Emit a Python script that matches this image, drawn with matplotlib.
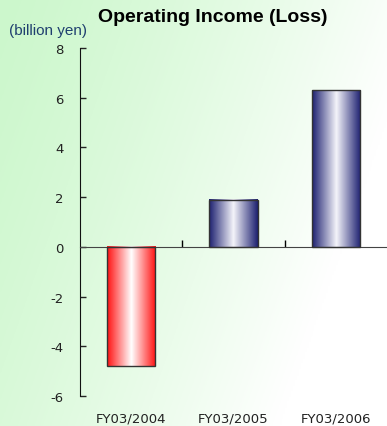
import numpy as np
import matplotlib.pyplot as plt
from matplotlib.colors import LinearSegmentedColormap
from matplotlib.transforms import blended_transform_factory

# Datos
periodos = ['FY03/2004', 'FY03/2005', 'FY03/2006']
ingreso = [-4.8, 1.9, 6.3]
yticks = [-6, -4, -2, 0, 2, 4, 6, 8]

fig = plt.figure(figsize=(3.87, 4.27), dpi=100)

# Fondo degradado verde -> blanco
bg = fig.add_axes([0, 0, 1, 1], zorder=-10)
xx, yy = np.meshgrid(np.linspace(0, 1, 200), np.linspace(0, 1, 200))
t = np.clip(0.9 * xx + 0.35 * yy, 0, 1) ** 1.3
verde = np.array([0.80, 0.97, 0.80])
blanco = np.array([1.0, 1.0, 1.0])
img = verde[None, None, :] * (1 - t[..., None]) + blanco[None, None, :] * t[..., None]
bg.imshow(img, extent=[0, 1, 0, 1], aspect='auto')
bg.axis('off')

ax = fig.add_axes([80 / 387, 1 - 397 / 427, 1 - 80 / 387, (397 - 49) / 427])
ax.patch.set_alpha(0)

barras = ax.bar(range(len(periodos)), ingreso, width=0.47,
                facecolor='none', edgecolor='#333333', linewidth=1.0, zorder=3)

# Degradados horizontales de cada barra
rojo = LinearSegmentedColormap.from_list('rojo', ['#ff1010', '#ffffff', '#ff1010'])
azul = LinearSegmentedColormap.from_list('azul', ['#1c1f70', '#f4f4fa', '#1c1f70'])
grad = np.linspace(0, 1, 256)[None, :]
for b, v in zip(barras, ingreso):
    x0 = b.get_x()
    y0 = b.get_y()
    ext = [x0, x0 + b.get_width(), y0, y0 + b.get_height()]
    ax.imshow(grad, cmap=rojo if v < 0 else azul, extent=ext,
              aspect='auto', zorder=2)

ax.set_xlim(-0.5, 2.5)
ax.set_ylim(-6, 8)
ax.set_yticks(yticks)
ax.set_yticklabels([str(v) for v in yticks])
ax.tick_params(axis='y', direction='in', length=4, width=1, labelsize=9.5,
               pad=12, colors='#222222')

for s in ['top', 'right']:
    ax.spines[s].set_visible(False)
ax.spines['bottom'].set_position(('data', 0))
ax.spines['bottom'].set_color('#444444')
ax.spines['left'].set_color('#111111')

ax.set_xticks([0, 1, 2])
ax.set_xticklabels([])
ax.tick_params(axis='x', which='major', length=0)
ax.set_xticks([0.5, 1.5], minor=True)
ax.tick_params(axis='x', which='minor', direction='in', length=5, width=1)

trans = blended_transform_factory(ax.transData, ax.transAxes)
for i, p in enumerate(periodos):
    ax.text(i, -0.063, p, transform=trans, ha='center', va='center',
            fontsize=9.5, color='#222222')

fig.text(213 / 387, 1 - 18 / 427, 'Operating Income (Loss)', ha='center',
         va='center', fontsize=14, fontweight='bold', family='Liberation Sans')
fig.text(9 / 387, 1 - 31 / 427, '(billion yen)', ha='left', va='center',
         fontsize=11, color='#1f3f6f', family='Liberation Sans')

fig.savefig('out.png', dpi=100)
